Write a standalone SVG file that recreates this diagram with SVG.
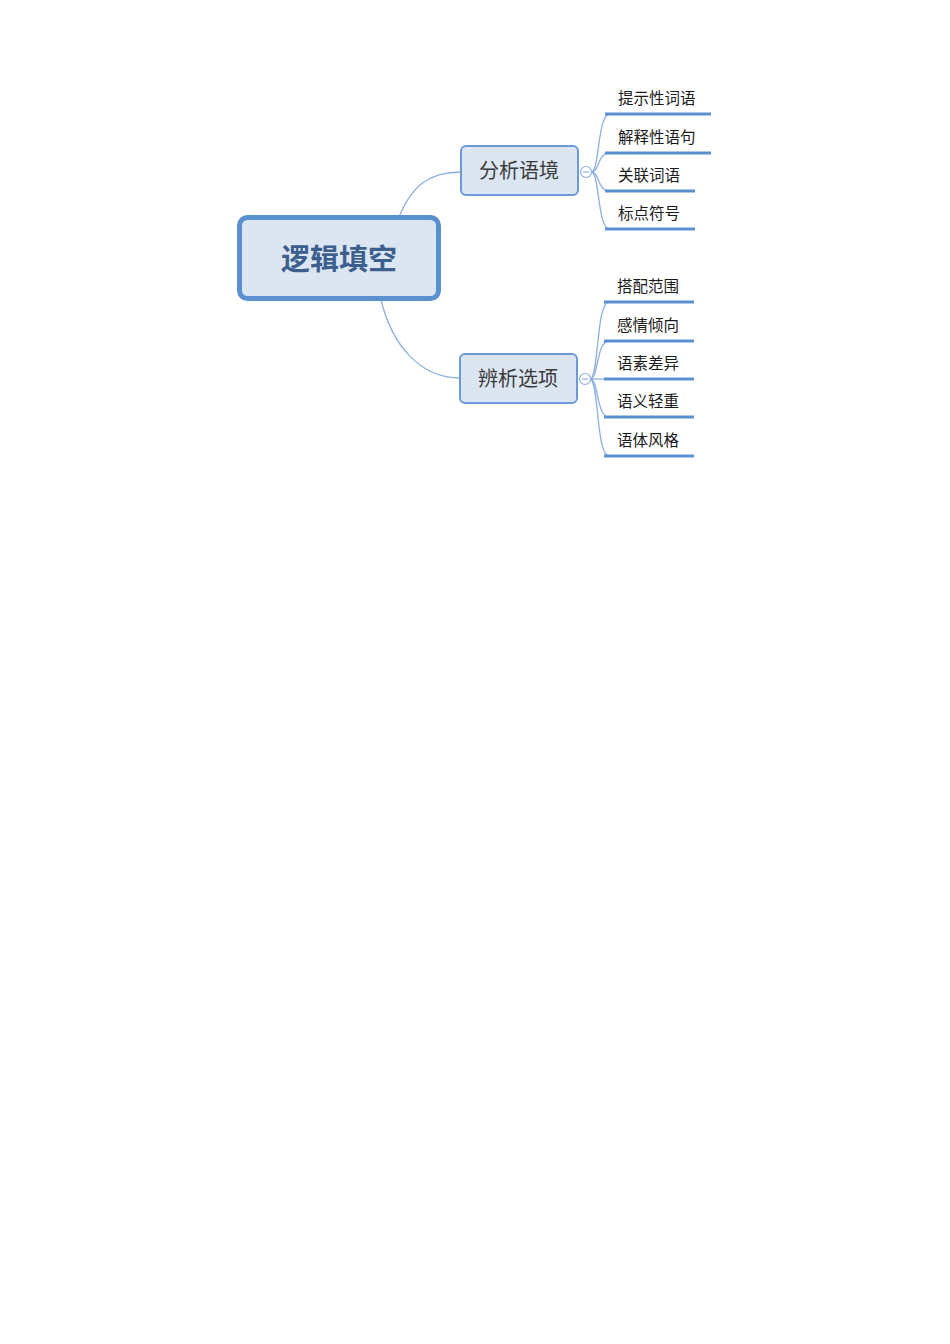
<svg xmlns="http://www.w3.org/2000/svg" width="950" height="1344" viewBox="0 0 950 1344">
<style>
.bg{fill:#ffffff}
.root rect{fill:#dce6f3;stroke:#5a8fd0;stroke-width:5}
.root text{font-family:"Noto Sans CJK SC","Liberation Sans",sans-serif;font-size:29px;font-weight:bold;fill:#3d5f8e;text-anchor:middle}
.branch rect{fill:#dce6f3;stroke:#6b9ad6;stroke-width:2}
.branch text{font-family:"Noto Sans CJK SC","Liberation Sans",sans-serif;font-size:20px;fill:#3a3a3a;text-anchor:middle}
.leaf line{stroke:#5a8fd0;stroke-width:3}
.leaf text{font-family:"Noto Sans CJK SC","Liberation Sans",sans-serif;font-size:15.5px;fill:#1a1a1a}
.conn path{fill:none;stroke:#8fb0de;stroke-width:1.3}
.toggle{fill:#ffffff;stroke:#8fb0de;stroke-width:1.2}
.toggle-line{stroke:#8fb0de;stroke-width:1.2}
</style>
<rect class="bg" x="0" y="0" width="950" height="1344"/>
<g id="connectors" class="conn">
<path d="M399,217 C412,185 430,172 461,172"/>
<path d="M381,300 C392,345 420,378 460,378"/>
<path d="M591,172 C600,172 597,114 610,114"/>
<path d="M591,172 C600,172 597,153 610,153"/>
<path d="M591,172 C600,172 597,191 610,191"/>
<path d="M591,172 C600,172 597,229 610,229"/>
<path d="M590,379 C599,379 596,302 609,302"/>
<path d="M590,379 C599,379 596,341 609,341"/>
<path d="M590,379 L609,379"/>
<path d="M590,379 C599,379 596,417 609,417"/>
<path d="M590,379 C599,379 596,456 609,456"/>
</g>
<g id="root" class="root">
<rect x="239.5" y="217.5" width="199" height="81" rx="8"/>
<text x="339" y="270">逻辑填空</text>
</g>
<g id="branch1" class="branch">
<rect x="461" y="146" width="117" height="49" rx="5"/>
<text x="519" y="178">分析语境</text>
</g>
<g id="branch2" class="branch">
<rect x="460" y="354" width="117" height="49" rx="5"/>
<text x="518" y="386">辨析选项</text>
</g>
<g id="toggle1"><circle class="toggle" cx="586" cy="172" r="5.5"/><line class="toggle-line" x1="583" y1="172" x2="589" y2="172"/></g>
<g id="toggle2"><circle class="toggle" cx="585" cy="379" r="5.5"/><line class="toggle-line" x1="582" y1="379" x2="588" y2="379"/></g>
<g id="leaf1" class="leaf"><text x="618" y="104">提示性词语</text><line x1="605" y1="114" x2="711" y2="114"/></g>
<g id="leaf2" class="leaf"><text x="618" y="143">解释性语句</text><line x1="605" y1="153" x2="711" y2="153"/></g>
<g id="leaf3" class="leaf"><text x="618" y="181">关联词语</text><line x1="605" y1="191" x2="695" y2="191"/></g>
<g id="leaf4" class="leaf"><text x="618" y="219">标点符号</text><line x1="605" y1="229" x2="695" y2="229"/></g>
<g id="leaf5" class="leaf"><text x="617" y="292">搭配范围</text><line x1="604" y1="302" x2="694" y2="302"/></g>
<g id="leaf6" class="leaf"><text x="617" y="331">感情倾向</text><line x1="604" y1="341" x2="694" y2="341"/></g>
<g id="leaf7" class="leaf"><text x="617" y="369">语素差异</text><line x1="604" y1="379" x2="694" y2="379"/></g>
<g id="leaf8" class="leaf"><text x="617" y="407">语义轻重</text><line x1="604" y1="417" x2="694" y2="417"/></g>
<g id="leaf9" class="leaf"><text x="617" y="446">语体风格</text><line x1="604" y1="456" x2="694" y2="456"/></g>
</svg>
